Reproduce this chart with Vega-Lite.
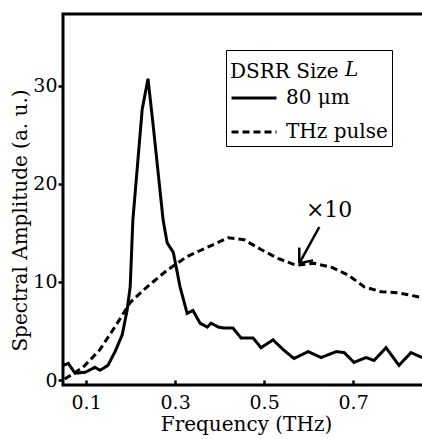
{
  "$schema": "https://vega.github.io/schema/vega-lite/v6.json",
  "autosize": {"type": "none"},
  "padding": {"left": 63, "top": 14, "right": 0, "bottom": 54},
  "width": 366,
  "height": 371,
  "background": "white",
  "config": {
    "view": {"stroke": "black", "strokeWidth": 3},
    "font": "DejaVu Serif",
    "axis": {
      "grid": false,
      "domain": false,
      "labelFont": "DejaVu Serif",
      "titleFont": "DejaVu Serif",
      "labelFontSize": 19,
      "titleFontSize": 20,
      "titleFontWeight": "normal",
      "labelColor": "black",
      "titleColor": "black",
      "tickColor": "black",
      "tickWidth": 2.5
    },
    "legend": {
      "labelFont": "DejaVu Serif",
      "titleFont": "DejaVu Serif",
      "labelFontSize": 20,
      "titleFontSize": 20,
      "titleFontWeight": "normal",
      "labelColor": "black",
      "titleColor": "black"
    }
  },
  "datasets": {
    "curves": [
      {"f": 0.048, "a": 1.5, "s": "80 μm"},
      {"f": 0.060, "a": 1.7, "s": "80 μm"},
      {"f": 0.075, "a": 0.7, "s": "80 μm"},
      {"f": 0.098, "a": 0.8, "s": "80 μm"},
      {"f": 0.120, "a": 1.3, "s": "80 μm"},
      {"f": 0.131, "a": 1.0, "s": "80 μm"},
      {"f": 0.149, "a": 1.5, "s": "80 μm"},
      {"f": 0.165, "a": 2.9, "s": "80 μm"},
      {"f": 0.181, "a": 4.6, "s": "80 μm"},
      {"f": 0.192, "a": 7.1, "s": "80 μm"},
      {"f": 0.199, "a": 9.5, "s": "80 μm"},
      {"f": 0.205, "a": 16.3, "s": "80 μm"},
      {"f": 0.226, "a": 27.6, "s": "80 μm"},
      {"f": 0.239, "a": 30.7, "s": "80 μm"},
      {"f": 0.251, "a": 25.8, "s": "80 μm"},
      {"f": 0.273, "a": 16.3, "s": "80 μm"},
      {"f": 0.282, "a": 14.0, "s": "80 μm"},
      {"f": 0.296, "a": 13.0, "s": "80 μm"},
      {"f": 0.311, "a": 9.5, "s": "80 μm"},
      {"f": 0.327, "a": 6.8, "s": "80 μm"},
      {"f": 0.340, "a": 7.1, "s": "80 μm"},
      {"f": 0.356, "a": 5.8, "s": "80 μm"},
      {"f": 0.372, "a": 5.4, "s": "80 μm"},
      {"f": 0.381, "a": 5.8, "s": "80 μm"},
      {"f": 0.397, "a": 5.4, "s": "80 μm"},
      {"f": 0.410, "a": 5.3, "s": "80 μm"},
      {"f": 0.430, "a": 5.3, "s": "80 μm"},
      {"f": 0.448, "a": 4.3, "s": "80 μm"},
      {"f": 0.475, "a": 4.3, "s": "80 μm"},
      {"f": 0.493, "a": 3.3, "s": "80 μm"},
      {"f": 0.520, "a": 4.1, "s": "80 μm"},
      {"f": 0.543, "a": 3.1, "s": "80 μm"},
      {"f": 0.567, "a": 2.2, "s": "80 μm"},
      {"f": 0.599, "a": 2.9, "s": "80 μm"},
      {"f": 0.628, "a": 2.3, "s": "80 μm"},
      {"f": 0.662, "a": 2.9, "s": "80 μm"},
      {"f": 0.680, "a": 2.8, "s": "80 μm"},
      {"f": 0.702, "a": 1.8, "s": "80 μm"},
      {"f": 0.729, "a": 2.3, "s": "80 μm"},
      {"f": 0.747, "a": 2.0, "s": "80 μm"},
      {"f": 0.774, "a": 3.3, "s": "80 μm"},
      {"f": 0.803, "a": 1.5, "s": "80 μm"},
      {"f": 0.830, "a": 2.8, "s": "80 μm"},
      {"f": 0.855, "a": 2.3, "s": "80 μm"},
      {"f": 0.052, "a": 0.1, "s": "THz pulse"},
      {"f": 0.093, "a": 1.3, "s": "THz pulse"},
      {"f": 0.131, "a": 3.1, "s": "THz pulse"},
      {"f": 0.170, "a": 5.8, "s": "THz pulse"},
      {"f": 0.199, "a": 7.9, "s": "THz pulse"},
      {"f": 0.237, "a": 9.5, "s": "THz pulse"},
      {"f": 0.282, "a": 11.2, "s": "THz pulse"},
      {"f": 0.327, "a": 12.6, "s": "THz pulse"},
      {"f": 0.381, "a": 13.7, "s": "THz pulse"},
      {"f": 0.419, "a": 14.5, "s": "THz pulse"},
      {"f": 0.455, "a": 14.3, "s": "THz pulse"},
      {"f": 0.493, "a": 13.3, "s": "THz pulse"},
      {"f": 0.531, "a": 12.4, "s": "THz pulse"},
      {"f": 0.572, "a": 11.7, "s": "THz pulse"},
      {"f": 0.612, "a": 11.9, "s": "THz pulse"},
      {"f": 0.651, "a": 11.5, "s": "THz pulse"},
      {"f": 0.689, "a": 10.7, "s": "THz pulse"},
      {"f": 0.725, "a": 9.5, "s": "THz pulse"},
      {"f": 0.763, "a": 9.0, "s": "THz pulse"},
      {"f": 0.801, "a": 8.9, "s": "THz pulse"},
      {"f": 0.855, "a": 8.4, "s": "THz pulse"}
    ],
    "arrow": [
      {"x1": 0.624, "y1": 15.6, "x2": 0.579, "y2": 11.9},
      {"x1": 0.579, "y1": 13.5, "x2": 0.579, "y2": 11.9},
      {"x1": 0.610, "y1": 12.2, "x2": 0.579, "y2": 11.9}
    ],
    "note": [{"x": 0.646, "y": 17.3, "t": "×10"}],
    "italic": [{"x": 0.682, "y": 31.6, "t": "L"}]
  },
  "layer": [
    {
      "data": {"name": "curves"},
      "mark": {"type": "line", "color": "black", "strokeWidth": 3, "clip": true},
      "encoding": {
        "x": {
          "field": "f", "type": "quantitative",
          "scale": {"domain": [0.048, 0.8705], "nice": false, "zero": false},
          "axis": {"values": [0.1, 0.3, 0.5, 0.7], "format": ".1f", "tickSize": -5, "labelPadding": 13, "labelFont": "DejaVu Serif", "titleFont": "DejaVu Serif", "title": "Frequency (THz)", "titlePadding": 2}
        },
        "y": {
          "field": "a", "type": "quantitative",
          "scale": {"domain": [-0.5, 37.3], "nice": false, "zero": false},
          "axis": {"values": [0, 10, 20, 30], "tickSize": 5, "labelPadding": 1, "labelFont": "DejaVu Serif", "titleFont": "DejaVu Serif", "title": "Spectral Amplitude (a. u.)", "titlePadding": 2, "titleY": 206}
        },
        "order": {"field": "f", "type": "quantitative"},
        "strokeDash": {
          "field": "s", "type": "nominal",
          "scale": {"domain": ["80 μm", "THz pulse"], "range": [[1, 0], [7, 4]]},
          "legend": {
            "title": "DSRR Size",
            "orient": "none",
            "legendX": 163,
            "legendY": 36,
            "strokeColor": "black",
            "padding": 4,
            "symbolType": "stroke",
            "symbolSize": 2025,
            "symbolStrokeWidth": 3,
            "symbolStrokeColor": "black",
            "labelFont": "DejaVu Serif",
            "titleFont": "DejaVu Serif",
            "titleBaseline": "line-top",
            "titleLineHeight": 36,
            "labelOffset": 8,
            "rowPadding": -27,
            "titlePadding": 0
          }
        }
      }
    },
    {
      "data": {"name": "arrow"},
      "mark": {"type": "rule", "color": "black", "strokeWidth": 2.5},
      "encoding": {
        "x": {"field": "x1", "type": "quantitative"},
        "y": {"field": "y1", "type": "quantitative"},
        "x2": {"field": "x2"},
        "y2": {"field": "y2"}
      }
    },
    {
      "data": {"name": "note"},
      "mark": {"type": "text", "fontSize": 22, "font": "DejaVu Serif", "color": "black"},
      "encoding": {
        "x": {"field": "x", "type": "quantitative"},
        "y": {"field": "y", "type": "quantitative"},
        "text": {"field": "t"}
      }
    },
    {
      "data": {"name": "italic"},
      "mark": {"type": "text", "fontSize": 20, "font": "DejaVu Serif", "fontStyle": "italic", "align": "left", "color": "black"},
      "encoding": {
        "x": {"field": "x", "type": "quantitative"},
        "y": {"field": "y", "type": "quantitative"},
        "text": {"field": "t"}
      }
    }
  ]
}
